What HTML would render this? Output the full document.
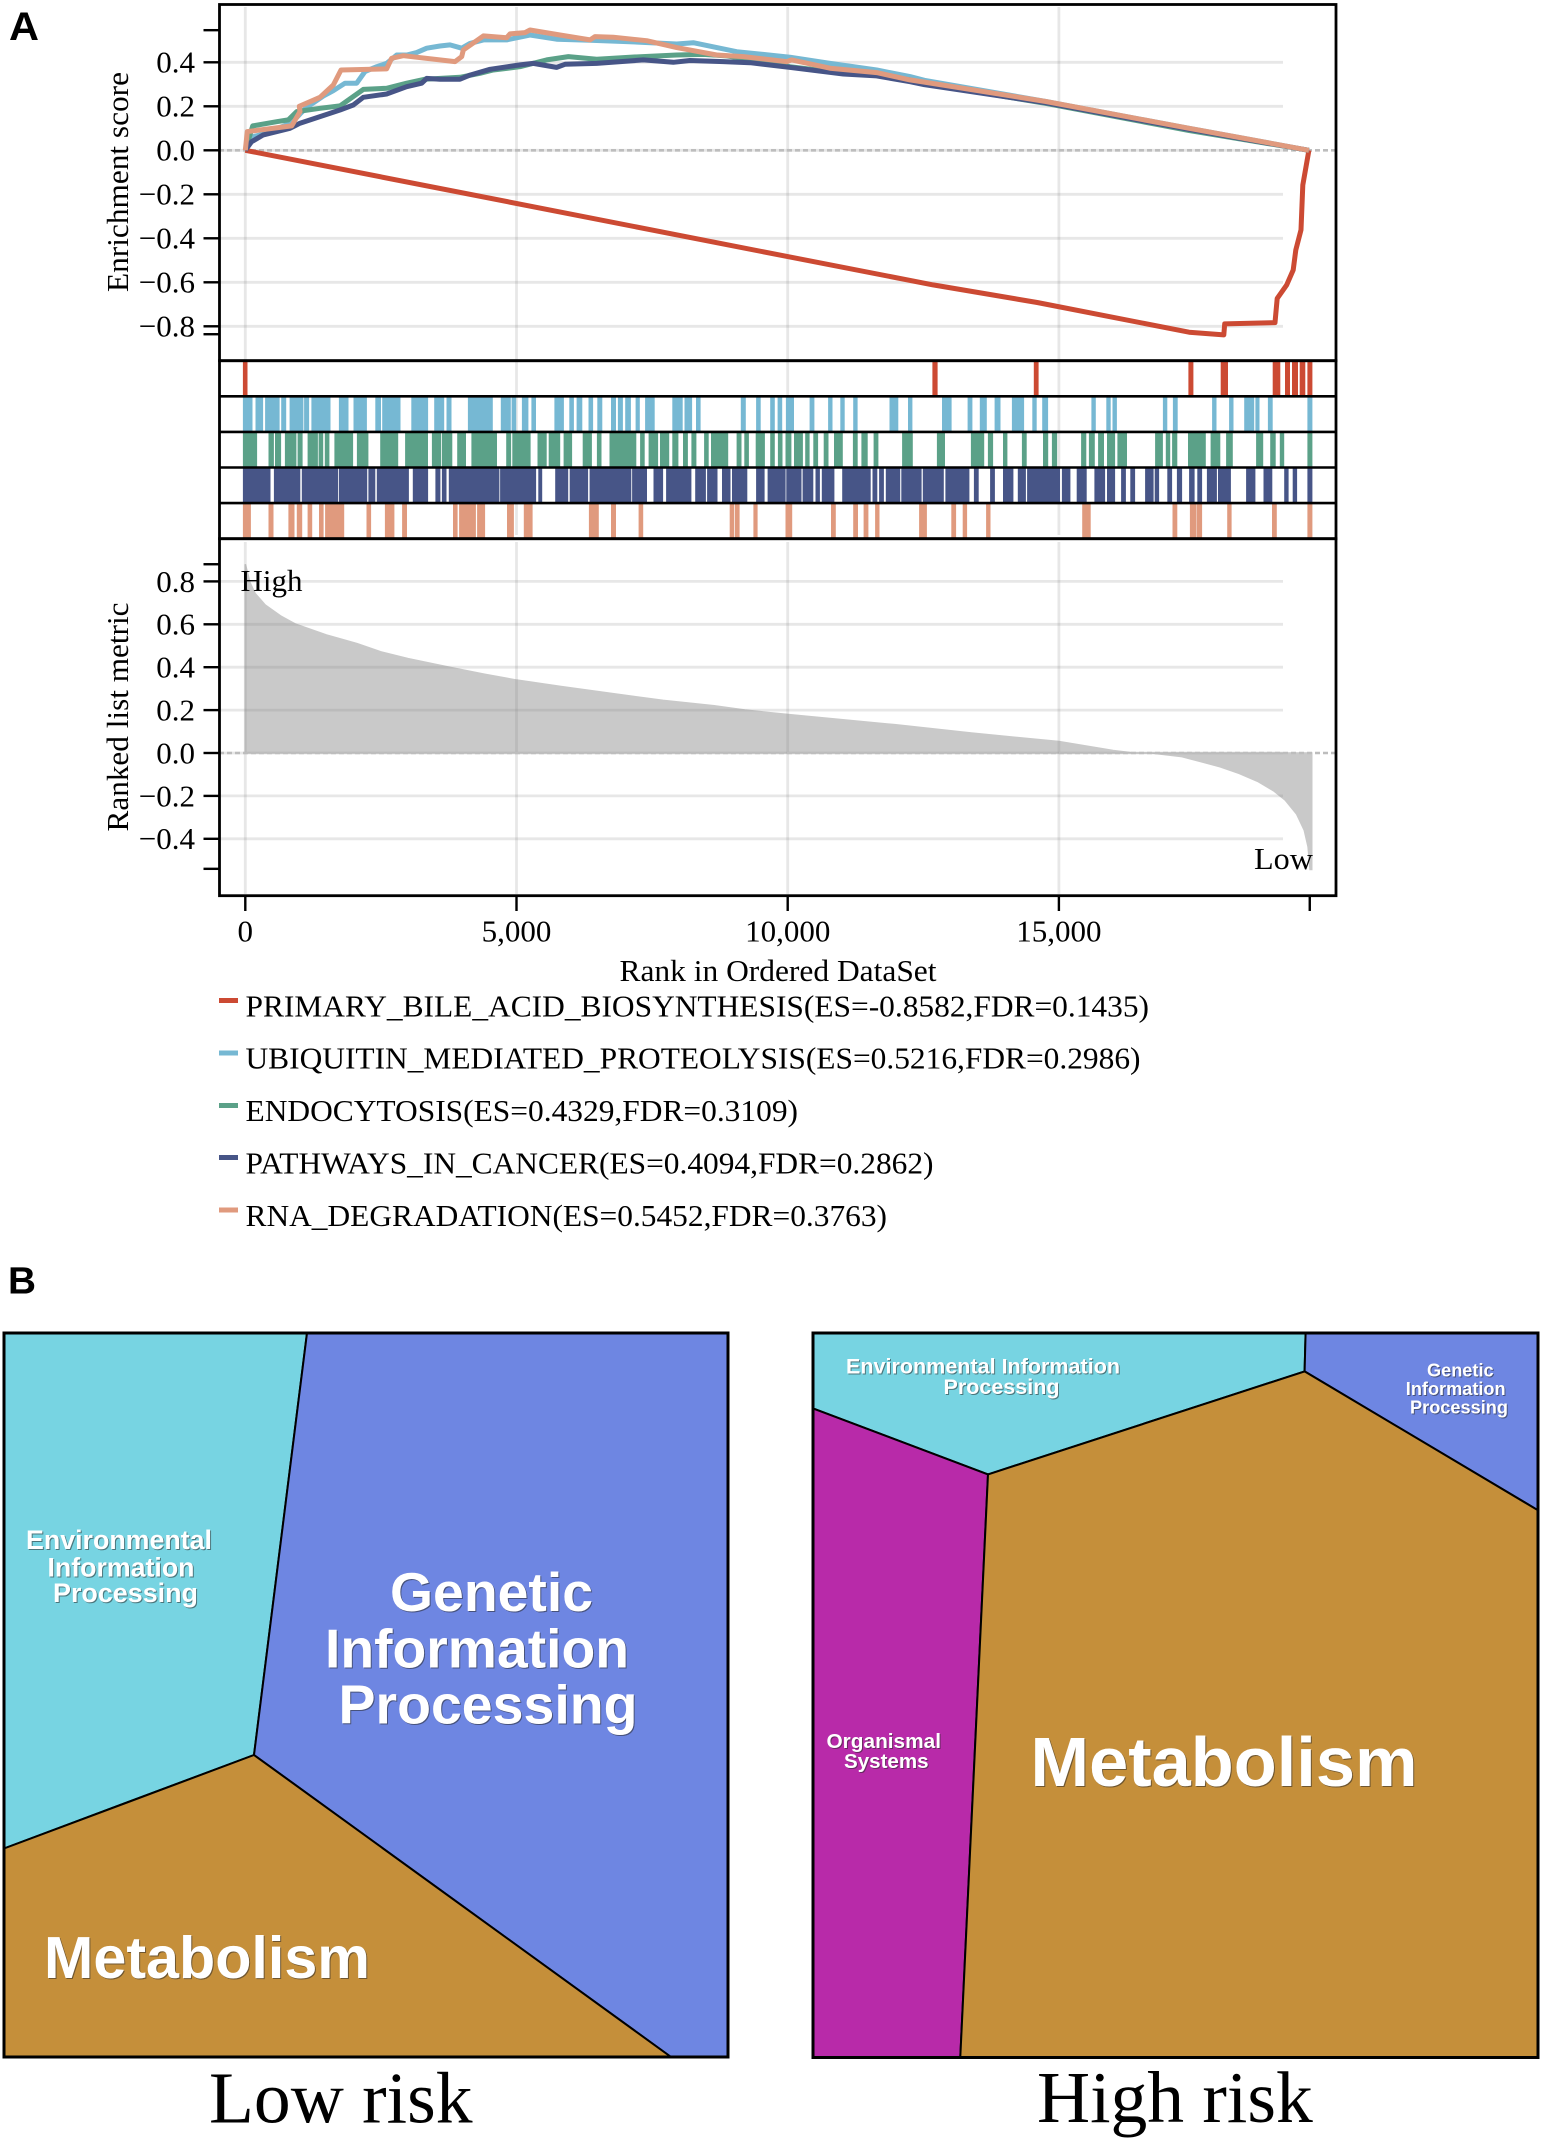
<!DOCTYPE html>
<html lang="en">
<head>
<meta charset="utf-8">
<title>GSEA enrichment plot and pathway Voronoi maps</title>
<style>
html,body{margin:0;padding:0;background:#fff;}
svg{display:block;}
text{font-family:"Liberation Serif",serif;fill:#000;}
.sans{font-family:"Liberation Sans",sans-serif;font-weight:bold;}
.lab{font-family:"Liberation Sans",sans-serif;font-weight:bold;fill:#fff;filter:drop-shadow(1px 1px 0 rgba(40,40,40,.55));}
.cell{stroke:#000;stroke-width:2;stroke-linejoin:round;}
</style>
</head>
<body>
<svg id="fig" xmlns="http://www.w3.org/2000/svg" width="1542" height="2141" viewBox="0 0 1542 2141">
  <rect x="0" y="0" width="1542" height="2141" fill="#fff"/>

  <text class="sans" x="9" y="40" font-size="40" textLength="30" lengthAdjust="spacingAndGlyphs">A</text>

  <g id="gridLayer"></g>
  <g id="rugLayer"></g>
  <g id="metricLayer"></g>
  <g id="gridLayer2"></g>
  <g id="lineLayer"></g>
  <g id="axisLayer"></g>

  <text x="128" y="182" font-size="31" text-anchor="middle" transform="rotate(-90 128 182)" textLength="220" lengthAdjust="spacingAndGlyphs">Enrichment score</text>
  <text x="128" y="717" font-size="31" text-anchor="middle" transform="rotate(-90 128 717)" textLength="229" lengthAdjust="spacingAndGlyphs">Ranked list metric</text>
  <text x="778" y="981" font-size="31" text-anchor="middle" textLength="317" lengthAdjust="spacingAndGlyphs">Rank in Ordered DataSet</text>
  <text x="240.5" y="591" font-size="31" textLength="62" lengthAdjust="spacingAndGlyphs">High</text>
  <text x="1254" y="869" font-size="31" textLength="59" lengthAdjust="spacingAndGlyphs">Low</text>

  <g>
    <g>
      <rect x="219" y="998" width="19" height="5" fill="#CC4A33"/>
      <text x="245.5" y="1016.7" font-size="31" textLength="903.5" lengthAdjust="spacingAndGlyphs">PRIMARY_BILE_ACID_BIOSYNTHESIS(ES=-0.8582,FDR=0.1435)</text>
    </g>
    <g>
      <rect x="219" y="1050.5" width="19" height="5" fill="#76B8D3"/>
      <text x="245.5" y="1068.7" font-size="31" textLength="895" lengthAdjust="spacingAndGlyphs">UBIQUITIN_MEDIATED_PROTEOLYSIS(ES=0.5216,FDR=0.2986)</text>
    </g>
    <g>
      <rect x="219" y="1103" width="19" height="5" fill="#5BA188"/>
      <text x="245.5" y="1121" font-size="31" textLength="552.5" lengthAdjust="spacingAndGlyphs">ENDOCYTOSIS(ES=0.4329,FDR=0.3109)</text>
    </g>
    <g>
      <rect x="219" y="1155" width="19" height="5" fill="#475587"/>
      <text x="245.5" y="1173.5" font-size="31" textLength="688" lengthAdjust="spacingAndGlyphs">PATHWAYS_IN_CANCER(ES=0.4094,FDR=0.2862)</text>
    </g>
    <g>
      <rect x="219" y="1207.5" width="19" height="5" fill="#E09A7E"/>
      <text x="245.5" y="1226" font-size="31" textLength="641.5" lengthAdjust="spacingAndGlyphs">RNA_DEGRADATION(ES=0.5452,FDR=0.3763)</text>
    </g>
  </g>

  <text class="sans" x="8" y="1293.5" font-size="38" textLength="28" lengthAdjust="spacingAndGlyphs">B</text>

  <g>
    <polygon class="cell" points="4,1333 307,1333 254,1755 4,1848.5" fill="#77D4E2"/>
    <polygon class="cell" points="307,1333 728,1333 728,2057 671,2057 254,1755" fill="#6E86E2"/>
    <polygon class="cell" points="4,1848.5 254,1755 671,2057 4,2057" fill="#C58F3A"/>
    <rect x="4" y="1333" width="724" height="724" fill="none" stroke="#000" stroke-width="3"/>
    <g>
      <text class="lab" x="26" y="1549" font-size="26.5" textLength="186" lengthAdjust="spacingAndGlyphs">Environmental</text>
      <text class="lab" x="47.5" y="1576.4" font-size="26.5" textLength="147" lengthAdjust="spacingAndGlyphs">Information</text>
      <text class="lab" x="53" y="1602" font-size="26.5" textLength="145" lengthAdjust="spacingAndGlyphs">Processing</text>
    </g>
    <g>
      <text class="lab" x="390" y="1611" font-size="55" textLength="203" lengthAdjust="spacingAndGlyphs">Genetic</text>
      <text class="lab" x="325" y="1667.7" font-size="55" textLength="304" lengthAdjust="spacingAndGlyphs">Information</text>
      <text class="lab" x="338.5" y="1723.4" font-size="55" textLength="299" lengthAdjust="spacingAndGlyphs">Processing</text>
    </g>
    <text class="lab" x="44" y="1978" font-size="59" textLength="326" lengthAdjust="spacingAndGlyphs">Metabolism</text>
    <text x="209" y="2122.5" font-size="73.5" textLength="263.5" lengthAdjust="spacingAndGlyphs">Low risk</text>
  </g>

  <g>
    <polygon class="cell" points="813,1333 1305.6,1333 1304.6,1371.4 988,1474.4 813,1408.4" fill="#77D4E2"/>
    <polygon class="cell" points="1305.6,1333 1538,1333 1538,1510.3 1304.6,1371.4" fill="#6E86E2"/>
    <polygon class="cell" points="813,1408.4 988,1474.4 960.3,2057 813,2057" fill="#B82AA9"/>
    <polygon class="cell" points="988,1474.4 1304.6,1371.4 1538,1510.3 1538,2057 960.3,2057" fill="#C58F3A"/>
    <rect x="813" y="1333" width="725" height="724.5" fill="none" stroke="#000" stroke-width="3"/>
    <g>
      <text class="lab" x="846" y="1373.5" font-size="21" textLength="274" lengthAdjust="spacingAndGlyphs">Environmental Information</text>
      <text class="lab" x="943.5" y="1394" font-size="21" textLength="116" lengthAdjust="spacingAndGlyphs">Processing</text>
    </g>
    <g>
      <text class="lab" x="1427" y="1376.7" font-size="18" textLength="66.6" lengthAdjust="spacingAndGlyphs">Genetic</text>
      <text class="lab" x="1405.8" y="1395" font-size="18" textLength="99.8" lengthAdjust="spacingAndGlyphs">Information</text>
      <text class="lab" x="1410" y="1413.7" font-size="18" textLength="98" lengthAdjust="spacingAndGlyphs">Processing</text>
    </g>
    <g>
      <text class="lab" x="826.5" y="1748" font-size="20" textLength="114.5" lengthAdjust="spacingAndGlyphs">Organismal</text>
      <text class="lab" x="844" y="1767.8" font-size="20" textLength="84.6" lengthAdjust="spacingAndGlyphs">Systems</text>
    </g>
    <text class="lab" x="1030.5" y="1786" font-size="70" textLength="387" lengthAdjust="spacingAndGlyphs">Metabolism</text>
    <text x="1037" y="2122" font-size="73.5" textLength="275.7" lengthAdjust="spacingAndGlyphs">High risk</text>
  </g>
</svg>

<script>
// ---------- chart data ----------
const esTickValues = [0.4, 0.2, 0, -0.2, -0.4, -0.6, -0.8];
const esTickLabels = ["0.4", "0.2", "0.0", "\u22120.2", "\u22120.4", "\u22120.6", "\u22120.8"];
const esExtraTicks = [0.546, -0.836];
const metricTickValues = [0.8, 0.6, 0.4, 0.2, 0, -0.2, -0.4];
const metricTickLabels = ["0.8", "0.6", "0.4", "0.2", "0.0", "\u22120.2", "\u22120.4"];
const metricExtraTicks = [0.88, -0.54];
const rankTickValues = [0, 5000, 10000, 15000];
const rankTickLabels = ["0", "5,000", "10,000", "15,000"];
const rankEnd = 19625;

const primaryRanks = [0, 10000, 12680, 14600, 17400, 18040, 18056, 18984, 19024, 19200, 19320, 19368, 19464, 19496, 19610];
const primaryES = [0, -0.483, -0.612, -0.692, -0.827, -0.839, -0.789, -0.783, -0.673, -0.612, -0.544, -0.453, -0.362, -0.158, 0];

const ubiquitinRanks = [0, 13, 148, 271, 600, 855, 1008, 1131, 1438, 1623, 1838, 2053, 2207, 2422, 2606, 2791, 2975, 3159, 3344, 3590, 3774, 3989, 4143, 4389, 4819, 5249, 5740, 6355, 7031, 7953, 8260, 9059, 10042, 10780, 11640, 12255, 12520, 14760, 17400, 19610];
const ubiquitinES = [0, 0.01, 0.062, 0.07, 0.10, 0.125, 0.165, 0.195, 0.247, 0.271, 0.305, 0.305, 0.358, 0.38, 0.395, 0.433, 0.433, 0.444, 0.464, 0.474, 0.479, 0.464, 0.486, 0.502, 0.502, 0.524, 0.505, 0.50, 0.494, 0.483, 0.489, 0.448, 0.423, 0.395, 0.365, 0.335, 0.318, 0.222, 0.100, 0];

const endocytosisRanks = [0, 136, 578, 793, 947, 1377, 1746, 2176, 2606, 2975, 3313, 3958, 4327, 4573, 5065, 5556, 5956, 6478, 7092, 7953, 8445, 8875, 9428, 10042, 10780, 11640, 12255, 12520, 14760, 17400, 19610];
const endocytosisES = [0, 0.111, 0.130, 0.138, 0.176, 0.191, 0.202, 0.277, 0.282, 0.305, 0.323, 0.332, 0.35, 0.365, 0.38, 0.411, 0.426, 0.414, 0.423, 0.433, 0.436, 0.429, 0.408, 0.38, 0.358, 0.342, 0.32, 0.305, 0.213, 0.09, 0];

const cancerRanks = [0, 117, 332, 824, 1008, 1377, 1746, 1992, 2176, 2606, 2975, 3252, 3344, 3590, 3958, 4143, 4512, 5064, 5310, 5740, 5894, 6478, 7338, 7891, 8199, 8813, 9305, 10042, 11025, 11640, 12255, 12520, 14760, 17400, 19610];
const cancerES = [0, 0.039, 0.07, 0.10, 0.123, 0.153, 0.183, 0.206, 0.241, 0.256, 0.289, 0.305, 0.327, 0.323, 0.323, 0.342, 0.368, 0.388, 0.395, 0.377, 0.391, 0.395, 0.411, 0.40, 0.408, 0.403, 0.398, 0.377, 0.347, 0.338, 0.312, 0.298, 0.216, 0.095, 0];

const rnaRanks = [0, 37, 855, 1008, 996, 1377, 1623, 1764, 2606, 2698, 2913, 3866, 3989, 4020, 4389, 4819, 4880, 5157, 5249, 5802, 6355, 6447, 6785, 7400, 7953, 8691, 9182, 9981, 10073, 10780, 11640, 12255, 12520, 14760, 17400, 19610];
const rnaES = [0, 0.085, 0.111, 0.176, 0.20, 0.241, 0.297, 0.365, 0.370, 0.418, 0.430, 0.403, 0.426, 0.456, 0.52, 0.512, 0.529, 0.535, 0.547, 0.524, 0.502, 0.517, 0.514, 0.498, 0.467, 0.433, 0.426, 0.403, 0.411, 0.373, 0.353, 0.32, 0.31, 0.222, 0.100, 0];

const metricRanks = [0, 85, 179, 367, 649, 931, 1496, 2060, 2493, 3001, 3753, 4412, 5004, 5823, 6763, 7704, 8645, 9210, 10010, 11975, 13386, 15000, 16000, 16385, 16702, 17267, 17620, 17972, 18325, 18678, 18960, 19172, 19384, 19525, 19595, 19631];
const metricValues = [0.88, 0.795, 0.744, 0.690, 0.639, 0.600, 0.550, 0.510, 0.472, 0.44, 0.40, 0.367, 0.34, 0.31, 0.277, 0.245, 0.22, 0.2, 0.179, 0.132, 0.093, 0.053, 0.011, 0, 0, -0.017, -0.040, -0.064, -0.095, -0.134, -0.176, -0.219, -0.285, -0.360, -0.437, -0.543];

// gene-set hits, as [first rank, last rank] of each run of hits
const primaryHits = [[-45,40],[12668,12763],[14537,14625],[17387,17479],[17983,18118],[18942,19083],[19169,19261],[19298,19409],[19440,19544],[19581,19673]];
const ubiquitinHits = [[-45,132],[188,329],[365,633],[661,753],[816,1070],[1084,1176],[1218,1571],[1726,1903],[1994,2241],[2397,2503],[2524,2862],[3060,3370],[3483,3667],[3709,3801],[4104,4563],[4711,4895],[4909,4993],[5099,5219],[5275,5360],[5699,5875],[5974,6059],[6108,6214],[6327,6412],[6489,6581],[6743,6835],[6870,6962],[7004,7110],[7195,7272],[7371,7548],[7872,8063],[8098,8239],[8310,8394],[9135,9227],[9417,9502],[9678,9763],[9813,9897],[9967,10117],[10404,10492],[10745,10826],[10970,11052],[11208,11290],[11877,12040],[12218,12300],[12845,13022],[13316,13404],[13541,13670],[13814,13923],[14134,14359],[14509,14591],[14693,14802],[15600,15682],[15873,15955],[15989,16071],[16917,16999],[17101,17190],[17824,17906],[18137,18219],[18417,18601],[18622,18697],[18854,18942],[19581,19673]];
const endocytosisHits = [[-45,216],[428,527],[548,661],[731,943],[964,1056],[1148,1338],[1352,1437],[1465,1550],[1642,1987],[2058,2270],[2488,2820],[2947,3370],[3441,3610],[3624,3815],[3907,4069],[4168,4640],[4810,4901],[4923,5261],[5388,5558],[5593,5805],[5868,6024],[6221,6390],[6482,6567],[6715,7209],[7279,7364],[7435,7611],[7646,7816],[7872,7985],[8070,8161],[8225,8317],[8458,8543],[8585,8902],[9058,9149],[9199,9283],[9410,9580],[9678,9763],[9820,9904],[9960,10069],[10117,10281],[10322,10404],[10472,10560],[10663,10751],[10854,11017],[11202,11290],[11358,11474],[11583,11672],[12109,12306],[12750,12900],[13377,13623],[13691,13786],[13970,14052],[14318,14407],[14707,14802],[14871,14966],[15409,15505],[15553,15662],[15723,15832],[15887,16037],[16078,16255],[16773,16917],[16971,17053],[17087,17183],[17380,17708],[17796,17974],[18083,18206],[18635,18765],[18895,18997],[19072,19154],[19581,19673]];
const cancerHits = [[-45,463],[527,1014],[1042,1712],[1726,2248],[2270,2397],[2425,3017],[3088,3370],[3504,3596],[3624,3709],[3751,4683],[4697,5360],[5402,5473],[5713,5953],[5981,6320],[6348,7117],[7131,7406],[7526,7703],[7759,8225],[8295,8493],[8514,8705],[8789,8945],[8973,9255],[9417,9573],[9629,9961],[9974,10254],[10274,10472],[10513,10595],[10629,10861],[11004,11529],[11563,11652],[11686,11774],[11809,12075],[12095,12470],[12491,12879],[12907,13350],[13432,13520],[13732,13820],[13970,14161],[14243,14393],[14414,15021],[15055,15212],[15328,15512],[15655,15853],[15887,16037],[16146,16235],[16317,16405],[16589,16746],[16767,16849],[16999,17087],[17176,17271],[17401,17503],[17551,17640],[17728,17912],[17933,18171],[18451,18622],[18772,18935],[19154,19236],[19311,19392],[19581,19673]];
const rnaHits = [[-45,103],[428,520],[795,908],[950,1049],[1148,1232],[1359,1444],[1472,1825],[2234,2319],[2573,2749],[2891,2982],[3829,3914],[3942,4252],[4274,4422],[4824,4951],[5134,5297],[6334,6517],[6743,6835],[7251,7336],[8931,9015],[9029,9114],[9368,9446],[9960,10083],[10799,10888],[11208,11297],[11399,11488],[11611,11693],[12422,12566],[13016,13104],[13227,13309],[13657,13739],[15430,15587],[17094,17183],[17415,17537],[17544,17640],[18103,18185],[18929,19017],[19581,19673]];

// ---------- axis functions ----------
function xRank(r) { return 245.3 + r * 0.05424; }
function yES(v) { return 150.3 - 220 * v; }
function yMetric(v) { return 753 - 214.5 * v; }

const NS = "http://www.w3.org/2000/svg";
function make(tag, attrs, parent) {
  const el = document.createElementNS(NS, tag);
  for (const k in attrs) el.setAttribute(k, attrs[k]);
  parent.appendChild(el);
  return el;
}
function polyPath(ranks, values, yFn) {
  return ranks.map(function (r, i) {
    return (i ? "L" : "M") + xRank(r).toFixed(1) + " " + yFn(values[i]).toFixed(1);
  }).join("");
}

const gridLayer = document.getElementById("gridLayer");
const gridLayer2 = document.getElementById("gridLayer2");
const rugLayer = document.getElementById("rugLayer");
const metricLayer = document.getElementById("metricLayer");
const lineLayer = document.getElementById("lineLayer");
const axisLayer = document.getElementById("axisLayer");

const gridStyle = { stroke: "#888", "stroke-opacity": "0.2", "stroke-width": "2.8", fill: "none" };

// ---------- enrichment panel grid ----------
esTickValues.forEach(function (v) {
  const el = make("line", Object.assign({ x1: 219, x2: 1283, y1: yES(v), y2: yES(v) }, gridStyle), gridLayer);
  
  
});
rankTickValues.forEach(function (r) {
  const el = make("line", Object.assign({ x1: xRank(r), x2: xRank(r), y1: 7, y2: 535 }, gridStyle), gridLayer);
  
  
});

// ---------- rug ----------
const rugSeries = [
  { key: "primary", hits: primaryHits, color: "#CC4A33" },
  { key: "ubiquitin", hits: ubiquitinHits, color: "#76B8D3" },
  { key: "endocytosis", hits: endocytosisHits, color: "#5BA188" },
  { key: "cancer", hits: cancerHits, color: "#475587" },
  { key: "rna", hits: rnaHits, color: "#E09A7E" }
];
const rugTop = 360.7;
const rugRow = 35.6;
rugSeries.forEach(function (s, i) {
  s.hits.forEach(function (h) {
    const x0 = xRank(h[0]);
    const x1 = xRank(h[1]);
    const el = make("rect", { x: x0.toFixed(1), y: (rugTop + i * rugRow).toFixed(1), width: (x1 - x0).toFixed(1), height: rugRow, fill: s.color }, rugLayer);
    
    
  });
});

// ---------- ranked metric ----------
const lastMetricRank = metricRanks[metricRanks.length - 1];
const metricD = "M" + xRank(metricRanks[0]).toFixed(1) + " " + yMetric(0).toFixed(1) +
  polyPath(metricRanks, metricValues, yMetric).replace("M", "L") +
  "L" + xRank(lastMetricRank + 30).toFixed(1) + " " + yMetric(metricValues[metricValues.length - 1]).toFixed(1) +
  "L" + xRank(lastMetricRank + 30).toFixed(1) + " " + yMetric(0).toFixed(1) + "Z";
const metricArea = make("path", { d: metricD, fill: "#C9C9C9", stroke: "#C9C9C9", "stroke-width": "1.6" }, metricLayer);



metricTickValues.forEach(function (v) {
  const el = make("line", Object.assign({ x1: 219, x2: 1283, y1: yMetric(v), y2: yMetric(v) }, gridStyle), gridLayer2);
  
  
});
rankTickValues.forEach(function (r) {
  const el = make("line", Object.assign({ x1: xRank(r), x2: xRank(r), y1: 542, y2: 894 }, gridStyle), gridLayer2);
  
  
});

// ---------- zero lines ----------
const zeroES = make("line", { x1: 219, x2: 1335, y1: yES(0), y2: yES(0), stroke: "#bdbdbd", "stroke-width": "2.6", "stroke-dasharray": "5 3" }, gridLayer2);


const zeroMetric = make("line", { x1: 219, x2: 1335, y1: yMetric(0), y2: yMetric(0), stroke: "#bdbdbd", "stroke-width": "2.6", "stroke-dasharray": "5 3" }, gridLayer2);



// ---------- enrichment score lines ----------
const lineSeries = [
  { key: "primary", ranks: primaryRanks, values: primaryES, color: "#CC4A33" },
  { key: "ubiquitin", ranks: ubiquitinRanks, values: ubiquitinES, color: "#76B8D3" },
  { key: "endocytosis", ranks: endocytosisRanks, values: endocytosisES, color: "#5BA188" },
  { key: "cancer", ranks: cancerRanks, values: cancerES, color: "#475587" },
  { key: "rna", ranks: rnaRanks, values: rnaES, color: "#E09A7E" }
];
lineSeries.forEach(function (s) {
  const el = make("path", { d: polyPath(s.ranks, s.values, yES), fill: "none", stroke: s.color, "stroke-width": "5", "stroke-linejoin": "round" }, lineLayer);
  
  
});

// ---------- frames ----------
for (let i = 1; i < 5; i++) {
  const el = make("line", { x1: 219, x2: 1336, y1: rugTop + i * rugRow, y2: rugTop + i * rugRow, stroke: "#000", "stroke-width": "2.6" }, axisLayer);
  
  
}
const frameES = make("rect", { x: 219.5, y: 4.5, width: 1116.5, height: 356.2, fill: "none", stroke: "#000", "stroke-width": "2.8" }, axisLayer);


const frameRug = make("rect", { x: 219.5, y: rugTop, width: 1116.5, height: 178, fill: "none", stroke: "#000", "stroke-width": "2.8" }, axisLayer);


const frameMetric = make("rect", { x: 219.5, y: 538.7, width: 1116.5, height: 357, fill: "none", stroke: "#000", "stroke-width": "2.8" }, axisLayer);



// ---------- ticks and labels ----------
function yTick(y, name) {
  const el = make("line", { x1: 203.5, x2: 219, y1: y, y2: y, stroke: "#000", "stroke-width": "2.4" }, axisLayer);
  
  
}
esTickValues.forEach(function (v, i) {
  yTick(yES(v), 'es-axis-tick');
  const t = make("text", { x: 195, y: yES(v) + 10.4, "font-size": 31, "text-anchor": "end" }, axisLayer);
  t.textContent = esTickLabels[i];
  
  
});
esExtraTicks.forEach(function (v) {
  yTick(yES(v), 'es-axis-limit-tick');
});
metricTickValues.forEach(function (v, i) {
  yTick(yMetric(v), 'metric-axis-tick');
  const t = make("text", { x: 195, y: yMetric(v) + 10.4, "font-size": 31, "text-anchor": "end" }, axisLayer);
  t.textContent = metricTickLabels[i];
  
  
});
metricExtraTicks.forEach(function (v) {
  yTick(yMetric(v), 'metric-axis-limit-tick');
});
rankTickValues.forEach(function (r, i) {
  const tick = make("line", { x1: xRank(r), x2: xRank(r), y1: 896, y2: 911, stroke: "#000", "stroke-width": "2.4" }, axisLayer);
  
  
  const t = make("text", { x: xRank(r), y: 941.7, "font-size": 31, "text-anchor": "middle" }, axisLayer);
  t.textContent = rankTickLabels[i];
  
  
});
const endTick = make("line", { x1: xRank(rankEnd), x2: xRank(rankEnd), y1: 896, y2: 911, stroke: "#000", "stroke-width": "2.4" }, axisLayer);


</script>
</body>
</html>
